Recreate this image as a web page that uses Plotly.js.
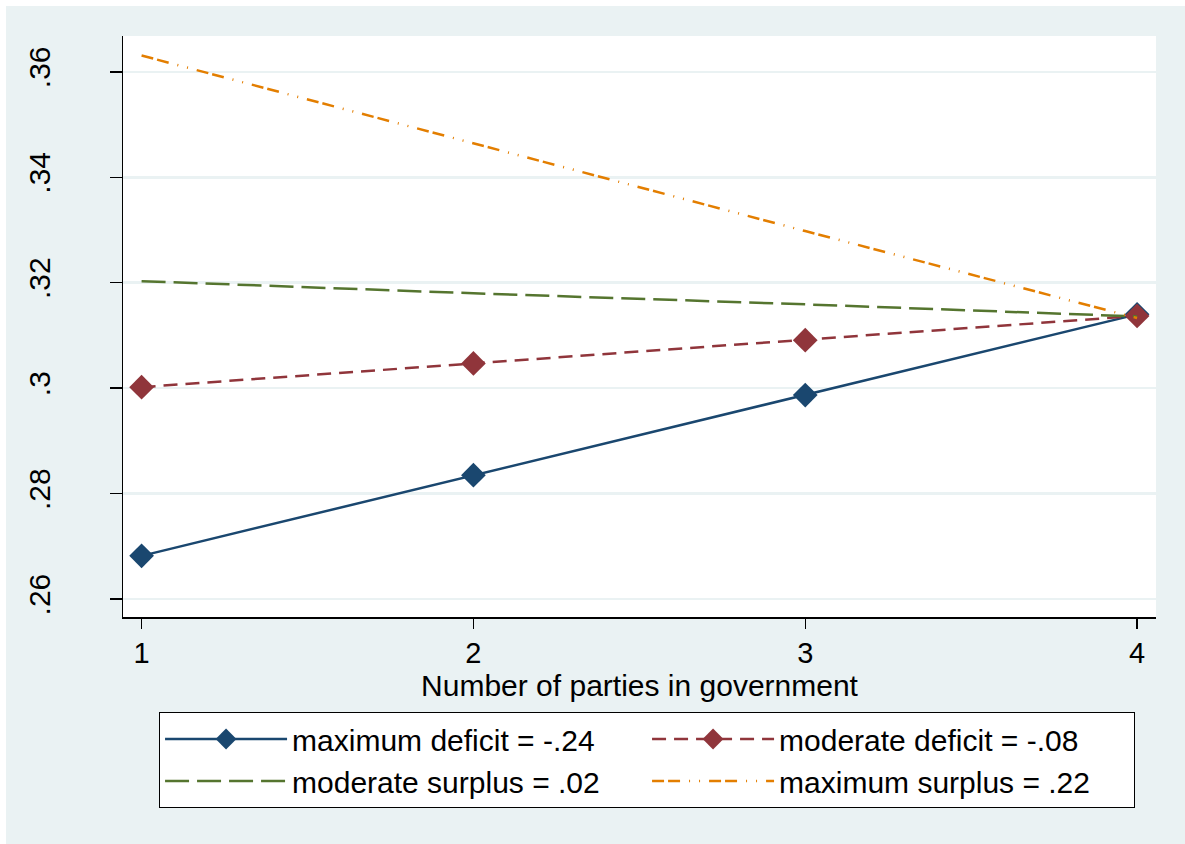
<!DOCTYPE html>
<html>
<head>
<meta charset="utf-8">
<script src="https://cdn.plot.ly/plotly-3.0.1.min.js"></script>
<style>
  html, body { margin: 0; padding: 0; background: #ffffff; }
  #chart { position: absolute; left: 6px; top: 6px; width: 1179px; height: 838px; }
</style>
</head>
<body>
<div id="chart"></div>
<script>
const parties = [1, 2, 3, 4];
const maxDeficit = [0.2682, 0.2835, 0.2987, 0.3140];
const modDeficit = [0.3002, 0.3047, 0.3091, 0.3137];
const modSurplus = [0.3203, 0.3180, 0.3159, 0.3136];
const maxSurplus = [0.3631, 0.3464, 0.3298, 0.3133];
const seriesNames = ['maximum deficit = -.24', 'moderate deficit = -.08', 'moderate surplus = .02', 'maximum surplus = .22'];
const yTickVals = [0.26, 0.28, 0.30, 0.32, 0.34, 0.36];
const yTickText = ['.26', '.28', '.3', '.32', '.34', '.36'];
const xTickVals = [1, 2, 3, 4];
const xTickText = ['1', '2', '3', '4'];

const FONT = 'Liberation Sans, Arial, sans-serif';

const traces = [
  { x: parties, y: maxDeficit, name: seriesNames[0], mode: 'lines+markers',
    line: { color: '#1a476f', width: 2.5 },
    marker: { symbol: 'diamond', size: 19, color: '#1a476f' } },
  { x: parties, y: modDeficit, name: seriesNames[1], mode: 'lines+markers',
    line: { color: '#90353b', width: 2.5, dash: '14px,8px' },
    marker: { symbol: 'diamond', size: 19, color: '#90353b' } },
  { x: parties, y: modSurplus, name: seriesNames[2], mode: 'lines',
    line: { color: '#55752f', width: 2.5, dash: '24px,8px' } },
  { x: parties, y: maxSurplus, name: seriesNames[3], mode: 'lines',
    line: { color: '#e37e00', width: 2.5, dash: '12px,4px,12px,9px,1px,9px,1px,9px' } }
];

const layout = {
  width: 1179, height: 838,
  paper_bgcolor: '#eaf2f3',
  plot_bgcolor: '#ffffff',
  margin: { l: 117, r: 29, t: 30, b: 227 },
  font: { family: FONT, size: 29, color: '#000000' },
  showlegend: true,
  xaxis: {
    range: [0.944, 4.057],
    tickvals: xTickVals, ticktext: xTickText,
    ticks: 'outside', ticklen: 10, tickwidth: 1.5, tickcolor: '#000000',
    showline: true, linecolor: '#000000', linewidth: 1.5,
    showgrid: false, zeroline: false,
    tickfont: { family: FONT, size: 29 },
    title: { text: 'Number of parties in government', font: { family: FONT, size: 30 }, standoff: 0 }
  },
  yaxis: {
    range: [0.2566, 0.3668],
    tickvals: yTickVals, ticktext: yTickText,
    tickangle: -90,
    ticks: 'outside', ticklen: 12, tickwidth: 1.5, tickcolor: '#000000',
    ticklabelstandoff: 48,
    showline: true, linecolor: '#000000', linewidth: 1.5,
    showgrid: true, gridcolor: '#eaf2f3', gridwidth: 2.5,
    zeroline: false,
    tickfont: { family: FONT, size: 30 }
  },
  legend: {
    orientation: 'h',
    x: 0.0349, xanchor: 'left',
    y: -0.1635, yanchor: 'top',
    bgcolor: '#ffffff', bordercolor: '#000000', borderwidth: 1,
    font: { family: FONT, size: 30 },
    entrywidth: 350, entrywidthmode: 'pixels',
    itemwidth: 122,
    tracegroupgap: 0
  }
};

Plotly.newPlot('chart', traces, layout, { displayModeBar: false, staticPlot: true });
</script>
</body>
</html>
